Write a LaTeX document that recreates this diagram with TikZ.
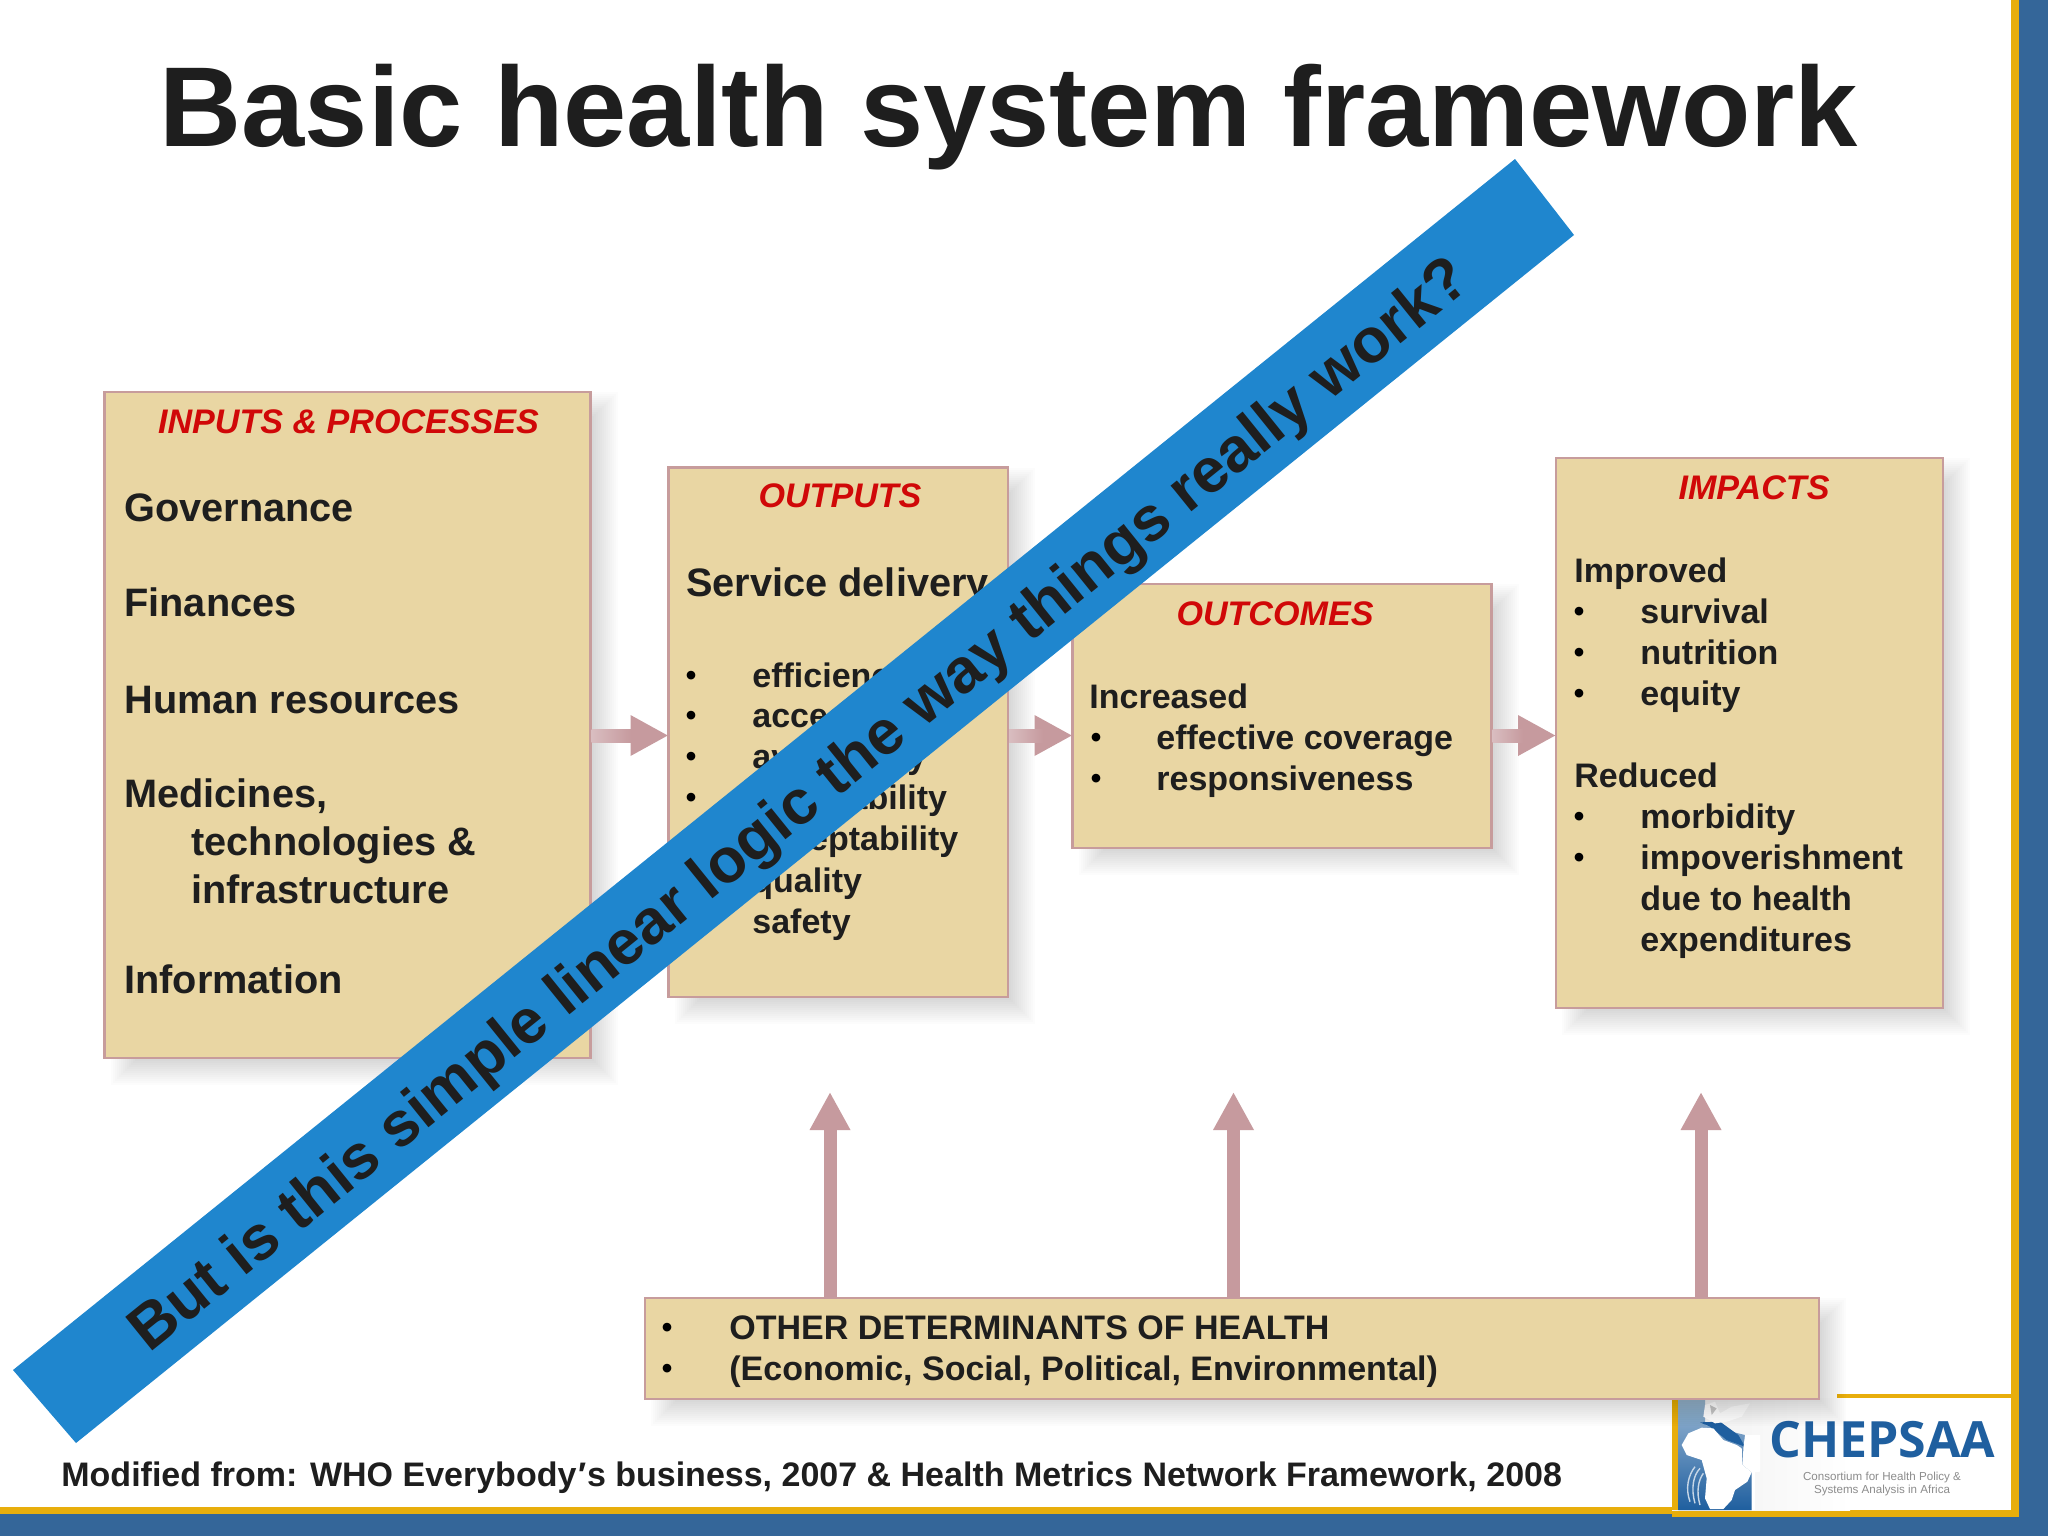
\documentclass[tikz,border=0pt]{standalone}
\usepackage{fontspec}
\setmainfont{Liberation Sans}
\newfontfamily\logofont{Open Sans}
\usetikzlibrary{arrows.meta,calc}
\definecolor{frameblue}{HTML}{346699}
\definecolor{framegold}{HTML}{E8AE0C}
\definecolor{tan}{HTML}{E9D6A3}
\definecolor{tanedge}{HTML}{C79C9C}
\definecolor{pinkarrow}{HTML}{C69A9E}
\definecolor{pinklight}{HTML}{E6D2D2}
\definecolor{pinkmid}{HTML}{D9BDC0}
\definecolor{banner}{HTML}{1F86CE}
\definecolor{inkdark}{HTML}{1E1E1E}
\definecolor{headred}{HTML}{D00808}
\definecolor{logoblue}{HTML}{1F5F9F}
\newcommand{\bodyA}{\fontsize{19.85}{24}\selectfont\bfseries}
\newcommand{\bodyB}{\fontsize{17.0}{20}\selectfont\bfseries}
\newcommand{\headF}{\fontsize{17.05}{20}\selectfont\bfseries\itshape}
\tikzset{
  x=0.5pt,y=-0.5pt,
  tanbox/.style={draw=tanedge,fill=tan,line width=1.1pt,inner sep=0pt,outer sep=0pt},
  tA/.style={anchor=base west,font=\bodyA,text=inkdark,inner sep=0pt},
  tB/.style={anchor=base west,font=\bodyB,text=inkdark,inner sep=0pt},
  blt/.style={anchor=base,font=\fontsize{15}{16}\selectfont\bfseries,text=black,inner sep=0pt,yshift=0.8pt},
  hd/.style={anchor=base,font=\headF,text=headred,inner sep=0pt},
  conn/.style={draw=pinkarrow,line width=6.5pt,-{Triangle[length=19pt,width=19pt]}},
}
\newcommand{\tbox}[5]{%
  \foreach \d in {0,2,...,24}{\fill[black,opacity=.012] (#2+6+\d,#3+\d) rectangle (#4+27-\d,#5+27-\d);}
  \node[tanbox,minimum width={(#4-#2)*0.5pt},minimum height={(#5-#3)*0.5pt}] (#1) at ({(#2+#4)/2},{(#3+#5)/2}) {};
}
\begin{document}
\begin{tikzpicture}
\useasboundingbox (0,0) rectangle (2048,1536);
\fill[white] (0,0) rectangle (2048,1536);
% frame
\fill[frameblue] (2019,0) rectangle (2048,1536);
\fill[frameblue] (0,1514) rectangle (2048,1536);
\fill[framegold] (2011,0) rectangle (2019,1517);
\fill[framegold] (0,1507) rectangle (1672,1514);
\fill[framegold] (1672,1510) rectangle (2019,1517);
% boxes
\tbox{inputs}{104.5}{392}{590.5}{1058}
\tbox{outputs}{668.5}{467.5}{1008}{997}
\tbox{outcomes}{1072.5}{584}{1491.5}{848}
\tbox{impacts}{1556}{458}{1943}{1008}
% connector levels
\coordinate (ya) at (0,735.5);
\coordinate (v1) at (830,0);
\coordinate (v2) at (1233.5,0);
\coordinate (v3) at (1701,0);
\coordinate (vtop) at (0,1092);
% horizontal arrows
\draw[conn] (inputs.east |- ya) -- (outputs.west |- ya);
\draw[conn] (outputs.east |- ya) -- (outcomes.west |- ya);
\draw[conn] (outcomes.east |- ya) -- (impacts.west |- ya);
\shade[left color=pinkmid,middle color=pinklight,right color=pinkarrow] (591.5,729) rectangle (631,742);
\shade[left color=pinkmid,middle color=pinklight,right color=pinkarrow] (1009,729) rectangle (1043,742);
\shade[left color=pinkmid,middle color=pinklight,right color=pinkarrow] (1492.5,729) rectangle (1523,742);
% logo
\fill[framegold] (1837,1394) rectangle (2011,1398);
\shade[left color=black!6,right color=white] (1672,1398) rectangle (1850,1510);
\fill[white] (1850,1398) rectangle (2011,1510);
\fill[framegold] (1672,1398) rectangle (1680,1510);
\begin{scope}[shift={(1660,1385)},x=0.16667pt,y=-0.16667pt]
  \shade[top color=logoblue!45,bottom color=logoblue] (55,40) -- (135,40) -- (135,120) -- (255,150) -- (250,230) -- (275,262) -- (275,375) -- (55,375) -- cycle;
  \fill[logoblue] (120,112) -- (180,110) -- (235,150) -- (255,185) -- (200,165) -- (150,125) -- cycle;
  \fill[white] (135,60) -- (165,50) -- (180,85) -- (215,65) -- (270,55) -- (245,95) -- (200,110) -- (165,115) -- (130,95) -- cycle;
  \fill[black!25,opacity=.8] (150,60) -- (170,70) -- (155,90) -- cycle;
  \fill[white] (65,180) -- (85,145) -- (125,128) -- (160,130) -- (190,165) -- (230,180) -- (245,190) -- (248,240) -- (275,262) -- (262,290) -- (225,315) -- (215,345) -- (190,372) -- (150,372) -- (135,340) -- (140,280) -- (125,225) -- (80,210) -- cycle;
  \fill[white] (255,150) -- (300,150) -- (300,260) -- (275,262) -- (248,240) -- (250,190) -- cycle;
  \fill[white] (275,262) -- (285,262) -- (285,375) -- (275,375) -- cycle;
  \draw[white!75!logoblue,line width=.7pt] (90,350) .. controls (75,310) and (85,270) .. (105,245);
  \draw[white!75!logoblue,line width=.7pt] (105,355) .. controls (92,310) and (100,270) .. (120,250);
  \draw[white!75!logoblue,line width=.7pt] (120,360) .. controls (108,320) and (115,285) .. (130,265);
\end{scope}
\node[anchor=base west,inner sep=0pt,font=\logofont\fontsize{25}{28}\selectfont\bfseries,text=logoblue] (logoname) at (1769,1457) {CHEPSAA};
\node[anchor=base,inner sep=0pt,font=\fontsize{5.8}{6}\selectfont,text=black!45] (logosub1) at (1882,1480) {Consortium for Health Policy \&};
\node[anchor=base,inner sep=0pt,font=\fontsize{5.8}{6}\selectfont,text=black!45] (logosub2) at (1882,1493) {Systems Analysis in Africa};
% determinants
\tbox{det}{645}{1298}{1819}{1399}
\draw[conn] (v1 |- det.north) -- (v1 |- vtop);
\draw[conn] (v2 |- det.north) -- (v2 |- vtop);
\draw[conn] (v3 |- det.north) -- (v3 |- vtop);
\node[blt] (db1) at (667,1339) {•};
\node[blt] (db2) at (667,1380.5) {•};
\node[tB] (d1) at (729,1339) {OTHER DETERMINANTS OF HEALTH};
\node[tB] (d2) at (729,1380.5) {(Economic, Social, Political, Environmental)};
% title and footer
\node[anchor=base,inner sep=0pt,font=\fontsize{56.8}{60}\selectfont\bfseries,text=inkdark] (title) at (1009,146) {Basic health system framework};
\node[anchor=base west,inner sep=0pt,font=\fontsize{17}{20}\selectfont\bfseries,text=inkdark] (foot) at (61,1486) {Modified from: WHO Everybody\kern.05em\char"2032\kern.02em s business, 2007 \& Health Metrics Network Framework, 2008};
% inputs
\node[hd] (h1) at (348.5,433) {INPUTS \& PROCESSES};
\node[tA] (a1) at (124,521) {Governance};
\node[tA] (a2) at (124,616.5) {Finances};
\node[tA] (a3) at (124,713) {Human resources};
\node[tA] (a4) at (124,807.5) {Medicines,};
\node[tA] (a5) at (191,855.5) {technologies \&};
\node[tA] (a6) at (191,903) {infrastructure};
\node[tA] (a7) at (124,993) {Information};
% outputs
\node[hd] (h2) at (840,507.5) {OUTPUTS};
\node[tA] (b0) at (686,596) {Service delivery};
\foreach \n/\y/\t in {1/687/efficiency,2/727.5/access,3/768/availability,4/809/affordability,5/850.5/acceptability,6/892/quality,7/933/safety}{
  \node[blt] (bb\n) at (691,\y) {•};
  \node[tB] (b\n) at (752,\y) {\t};
}
% outcomes
\node[hd] (h3) at (1275,625) {OUTCOMES};
\node[tB] (c0) at (1089,708) {Increased};
\node[blt] (cb1) at (1096,749) {•};
\node[blt] (cb2) at (1096,790) {•};
\node[tB] (c1) at (1156,749) {effective coverage};
\node[tB] (c2) at (1156,790) {responsiveness};
% impacts
\node[hd] (h4) at (1754,499) {IMPACTS};
\node[tB] (e0) at (1574,582.5) {Improved};
\foreach \n/\y/\t in {1/623/survival,2/664/nutrition,3/705/equity}{
  \node[blt] (eb\n) at (1579,\y) {•};
  \node[tB] (e\n) at (1640,\y) {\t};
}
\node[tB] (f0) at (1574,787.5) {Reduced};
\node[blt] (fb1) at (1579,828) {•};
\node[blt] (fb2) at (1579,869) {•};
\node[tB] (f1) at (1640,828) {morbidity};
\node[tB] (f2) at (1640,869) {impoverishment};
\node[tB] (f3) at (1640,910) {due to health};
\node[tB] (f4) at (1640,951) {expenditures};
% banner
\fill[banner] (13,1370) -- (1515,159) -- (1574,235) -- (76,1443) -- cycle;
\node[rotate=38.9,inner sep=0pt,font=\fontsize{31.3}{36}\selectfont\bfseries,text=inkdark] (ban) at (801,807) {But is this simple linear logic the way things really work?};
\end{tikzpicture}
\end{document}
